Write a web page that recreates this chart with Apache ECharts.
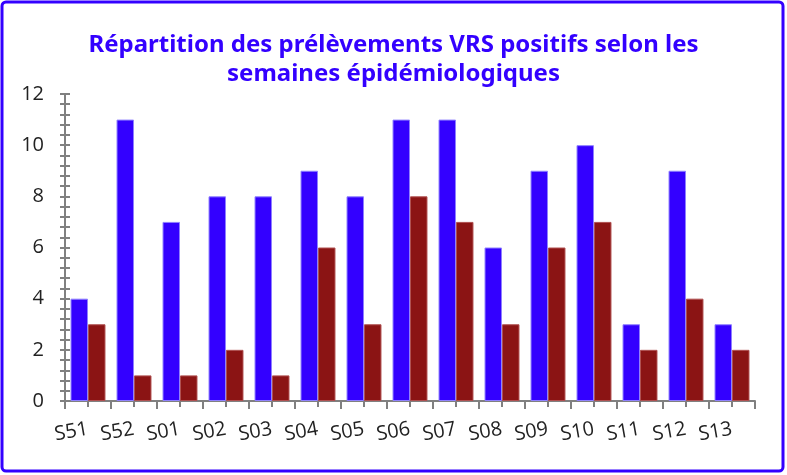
<!DOCTYPE html>
<html><head><meta charset="utf-8">
<script src="https://cdn.jsdelivr.net/npm/echarts@6/dist/echarts.min.js"></script>
<style>html,body{margin:0;padding:0;background:#fff}#c{width:787px;height:475px}</style>
</head><body><div id="c"></div>
<script>
var categories = ['S51','S52','S01','S02','S03','S04','S05','S06','S07','S08','S09','S10','S11','S12','S13'];
var seriesBlue = [4, 11, 7, 8, 8, 9, 8, 11, 11, 6, 9, 10, 3, 9, 3];
var seriesRed = [3, 1, 1, 2, 1, 6, 3, 8, 7, 3, 6, 7, 2, 4, 2];
var halfTicks = [];
categories.forEach(function(c){ halfTicks.push(c+'a'); halfTicks.push(c+'b'); });

var chart = echarts.init(document.getElementById('c'));
var axisGrey = '#808080';
chart.setOption({
  animation: false,
  title: {
    text: 'Répartition des prélèvements VRS positifs selon les\nsemaines épidémiologiques',
    left: 'center', top: 26,
    textStyle: {color: '#3300FF', fontSize: 24, fontWeight: 'bold', fontFamily: 'Noto Sans', lineHeight: 29}
  },
  graphic: [{type: 'rect', shape: {x: 2, y: 2, width: 781, height: 469, r: 4}, style: {fill: 'none', stroke: '#3300FF', lineWidth: 3}, z: 100}],
  grid: {left: 65, right: 32, top: 94, bottom: 74},
  xAxis: [{
    type: 'category', data: categories, boundaryGap: true,
    axisLine: {lineStyle: {color: axisGrey, width: 2}},
    axisTick: {show: true, length: 8, interval: 0, lineStyle: {color: axisGrey, width: 2}},
    axisLabel: {rotate: 10, interval: 0, hideOverlap: false, fontSize: 20, color: '#222', margin: 28, fontFamily: 'Open Sans'}
  }, {
    type: 'category', data: halfTicks, boundaryGap: true, position: 'bottom',
    axisLine: {show: false},
    axisTick: {show: true, length: 6, interval: 0, lineStyle: {color: axisGrey, width: 2}},
    axisLabel: {show: false}
  }],
  yAxis: [{
    type: 'value', min: 0, max: 12, interval: 2,
    axisLine: {show: true, lineStyle: {color: axisGrey, width: 2}},
    axisTick: {show: true, length: 5, lineStyle: {color: axisGrey, width: 2}},
    minorTick: {show: true, splitNumber: 5, length: 5, lineStyle: {color: axisGrey, width: 2}},
    splitLine: {show: false},
    axisLabel: {fontSize: 20, color: '#222', margin: 21, fontFamily: 'Open Sans'}
  }, {
    type: 'value', min: 0, max: 12, interval: 2, position: 'left',
    axisLine: {show: false},
    axisTick: {show: true, inside: true, length: 5, lineStyle: {color: axisGrey, width: 2}},
    minorTick: {show: true, splitNumber: 5, length: 5, lineStyle: {color: axisGrey, width: 2}},
    splitLine: {show: false},
    axisLabel: {show: false}
  }],
  series: [{
    type: 'bar', data: seriesBlue, barGap: '0%', barCategoryGap: '24%',
    itemStyle: {color: '#3300FF', borderColor: '#8f80ff', borderWidth: 1}
  }, {
    type: 'bar', data: seriesRed,
    itemStyle: {color: '#8B1414', borderColor: '#b05050', borderWidth: 1}
  }]
});
</script></body></html>
